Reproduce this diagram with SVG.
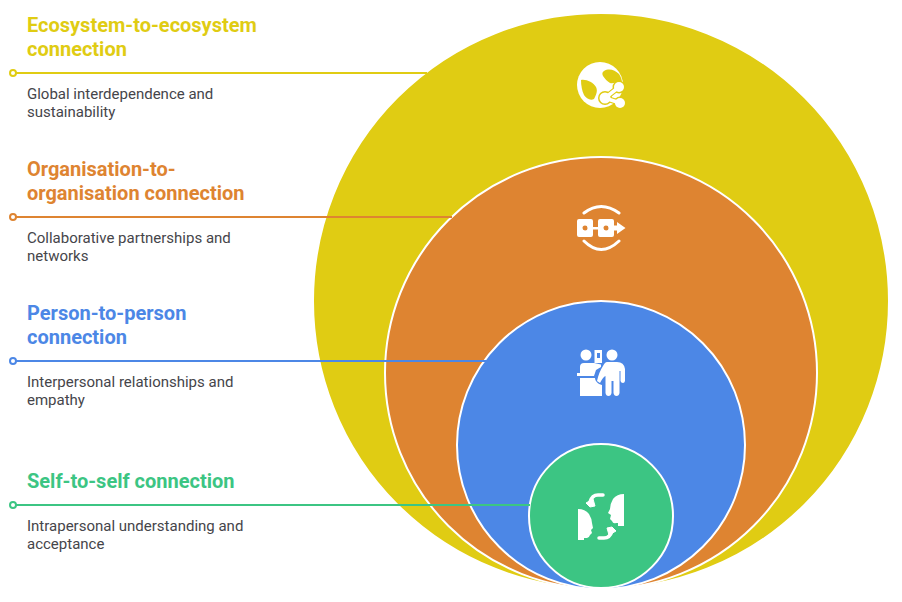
<svg xmlns="http://www.w3.org/2000/svg" width="902" height="602" viewBox="0 0 902 602">
<style>
text{font-family:Roboto,"Liberation Sans",sans-serif}
.t{font-size:20px;font-weight:700}
.d{font-size:15px;fill:#45454a}
.c{stroke:#fff;stroke-width:2}
.l{fill:none;stroke-width:2}
.p{fill:#fff;stroke-width:2}
.w{fill:#fff}
</style>
<rect width="902" height="602" fill="#fff"/>
<g id="node-ecosystem">
<circle class="c" cx="601" cy="301" r="288" fill="#e0cc13"/>
<g id="icon-ecosystem">
<circle class="w" cx="600" cy="85" r="23"/>
<path fill="#e0cc13" d="M581 80C586 79 593 82 596 87C598 91 596 95 594 99C590 101 586 98 584 95C582 91 581 85 581 80Z"/>
<path fill="#e0cc13" d="M604 71C609 68 615 70 619 74C621 77 622 80 622 83C618 81 614 84 610 83C607 81 605 79 603 76C602 74 602 72 604 71Z"/>
<circle fill="#e0cc13" cx="605" cy="98" r="7"/><circle fill="#e0cc13" cx="619" cy="87" r="6.500"/><circle fill="#e0cc13" cx="620" cy="103" r="6.500"/>
<path fill="none" stroke="#e0cc13" stroke-width="6" d="M605 98L619 87M605 98L620 103"/>
<path fill="none" stroke="#fff" stroke-width="3.500" d="M605 98L619 87M605 98L620 103"/>
<circle class="w" cx="605" cy="98" r="5.500"/><circle class="w" cx="619" cy="87" r="5"/><circle class="w" cx="620" cy="103" r="5"/>
</g>
</g>
<g id="node-organisation">
<circle class="c" cx="601" cy="373" r="216" fill="#de8431"/>
<g id="icon-organisation" fill="#fff">
<path fill="none" stroke="#fff" stroke-width="3" stroke-linecap="round" d="M584 213Q601 200 619 213M584 241Q601 258 619 241"/>
<path fill-rule="evenodd" d="M579 219H591Q593 219 593 221V235Q593 237 591 237H579Q577 237 577 235V221Q577 219 579 219ZM585 225.500A2.500 2.500 0 1 0 585.010 230.500A2.500 2.500 0 1 0 585 225.500Z"/>
<path fill-rule="evenodd" d="M600 219H612Q614 219 614 221V235Q614 237 612 237H600Q598 237 598 235V221Q598 219 600 219ZM606 225.500A2.500 2.500 0 1 0 606.010 230.500A2.500 2.500 0 1 0 606 225.500Z"/>
<rect x="592" y="227" width="7" height="2.500"/>
<path d="M613 225.500H617V222L625.500 228L617 234V230.500H613Z"/>
</g>
</g>
<g id="node-person">
<circle class="c" cx="601" cy="445" r="144" fill="#4c87e6"/>
<g id="icon-person" fill="#fff">
<circle cx="586" cy="355" r="5.500"/>
<circle cx="612" cy="355" r="5.500"/>
<path fill-rule="evenodd" d="M594.500 350H602V363H594.500ZM597 353V358H600V353Z"/>
<path d="M580 373V367Q580 363 584 363H594L601 364.500V367L596 370L594 376H577V373Z"/>
<path d="M580 378H595C595 381 598 384 602 385V396H580Z"/>
<path d="M607 362H617Q624 362 625 369V381Q624.500 383 623 383Q621 383 620.500 381V371H619.500V393Q619 396 616.500 396Q614 396 613.500 393V381H611.500V393Q611 396 608.500 396Q606 396 605.500 393V376Q603 377 600 383L597 381Q599 372 603 366Q605 362 607 362Z"/>
</g>
</g>
<g id="node-self">
<circle class="c" cx="601" cy="516" r="72" fill="#3cc583"/>
<g id="icon-self" fill="#fff">
<path d="M578 509Q585 509 589 514Q592 519 592 523L593 528L591 530L592 533L590 535Q589 538 587 538H584V540H578Z"/>
<path d="M624 494Q617 494 613 499Q610 504 610 509L608 513L611 515L610 519L612 521Q613 524 616 523H618V526H624Z"/>
<path d="M603 495H598Q592 495 590 502" fill="none" stroke="#fff" stroke-width="3.500" stroke-linecap="round"/>
<path d="M586 503L593 499L595 506L590 507Z" stroke="#fff" stroke-linejoin="round"/>
<path d="M599 538H604Q610 538 612 531" fill="none" stroke="#fff" stroke-width="3.500" stroke-linecap="round"/>
<path d="M616 531L609 535L607 528L612 527Z" stroke="#fff" stroke-linejoin="round"/>
</g>
</g>
<g id="connectors">
<path class="l" stroke="#e0cc13" d="M16 73H427"/><circle class="p" cx="13" cy="73" r="3" stroke="#e0cc13"/>
<path class="l" stroke="#de8431" d="M16 217H452"/><circle class="p" cx="13" cy="217" r="3" stroke="#de8431"/>
<path class="l" stroke="#4c87e6" d="M16 361H487"/><circle class="p" cx="13" cy="361" r="3" stroke="#4c87e6"/>
<path class="l" stroke="#3cc583" d="M16 505H530"/><circle class="p" cx="13" cy="505" r="3" stroke="#3cc583"/>
</g>
<g id="label-ecosystem">
<text class="t" x="27" y="32" fill="#e0cc13">Ecosystem-to-ecosystem</text>
<text class="t" x="27" y="56" fill="#e0cc13">connection</text>
<text class="d" x="27" y="99">Global interdependence and</text>
<text class="d" x="27" y="117">sustainability</text>
</g>
<g id="label-organisation">
<text class="t" x="27" y="176" fill="#de8431">Organisation-to-</text>
<text class="t" x="27" y="200" fill="#de8431">organisation connection</text>
<text class="d" x="27" y="243">Collaborative partnerships and</text>
<text class="d" x="27" y="261">networks</text>
</g>
<g id="label-person">
<text class="t" x="27" y="320" fill="#4c87e6">Person-to-person</text>
<text class="t" x="27" y="344" fill="#4c87e6">connection</text>
<text class="d" x="27" y="387">Interpersonal relationships and</text>
<text class="d" x="27" y="405">empathy</text>
</g>
<g id="label-self">
<text class="t" x="27" y="488" fill="#3cc583">Self-to-self connection</text>
<text class="d" x="27" y="531">Intrapersonal understanding and</text>
<text class="d" x="27" y="549">acceptance</text>
</g>
</svg>
